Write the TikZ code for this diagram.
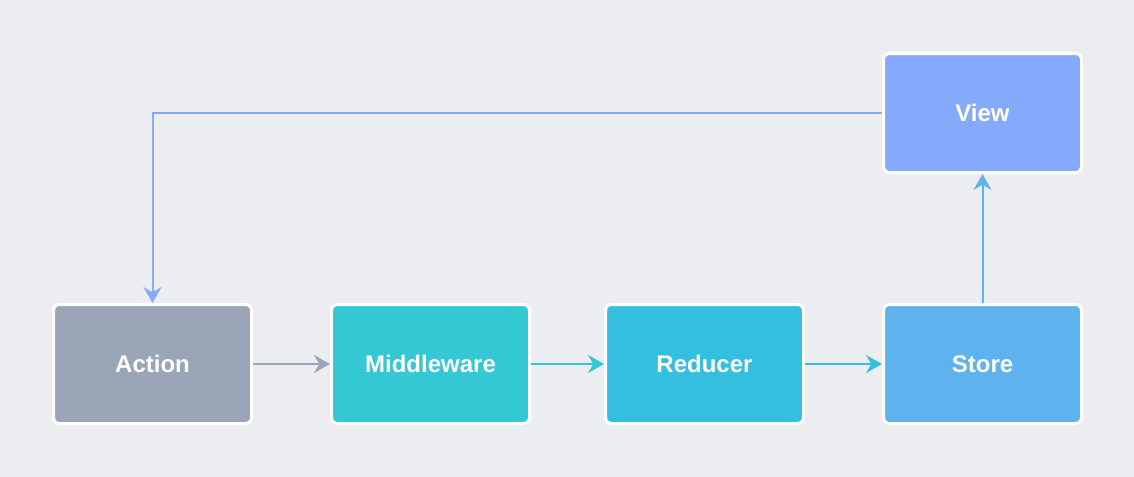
\documentclass[tikz,border=0pt]{standalone}
\usepackage{fontspec}
\setmainfont{Liberation Sans}
\usetikzlibrary{arrows.meta, positioning}

\definecolor{bggray}{HTML}{ECEDF0}
\definecolor{actioncol}{HTML}{9AA6B7}
\definecolor{middlecol}{HTML}{34C7D4}
\definecolor{reducecol}{HTML}{34BFE0}
\definecolor{storecol}{HTML}{5EB3EE}
\definecolor{viewcol}{HTML}{85A9FB}

\begin{document}
\begin{tikzpicture}[x=0.75pt, y=-0.75pt,
    stagebox/.style={draw=white, line width=2.25pt, rounded corners=4.5pt,
        minimum width=148.5pt, minimum height=89.25pt, inner sep=0pt,
        text=white, font=\fontsize{18}{20}\selectfont\bfseries},
    flow/.style={line width=1.5pt,
        -{Stealth[length=12pt, width=13.5pt, inset=4pt]}}]
    % Background
    \useasboundingbox (0,0) rectangle (1134,476);
    \fill[bggray] (-10,-10) rectangle (1144,486);

    % Stages
    \node[stagebox, fill=actioncol] (action) at (152.5,364) {Action};
    \node[stagebox, fill=middlecol] (middleware) at (430.5,364) {Middleware};
    \node[stagebox, fill=reducecol] (reducer) at (704.5,364) {Reducer};
    \node[stagebox, fill=storecol] (store) at (982.5,364) {Store};
    \node[stagebox, fill=viewcol] (view) at (982.5,113) {View};

    % Data flow
    \draw[flow, actioncol] (action) -- (middleware);
    \draw[flow, middlecol] (middleware) -- (reducer);
    \draw[flow, reducecol] (reducer) -- (store);
    \draw[flow, storecol] (store) -- (view);

    % Back to action
    \draw[flow, viewcol] (view.west) -| (action.north);
\end{tikzpicture}
\end{document}
